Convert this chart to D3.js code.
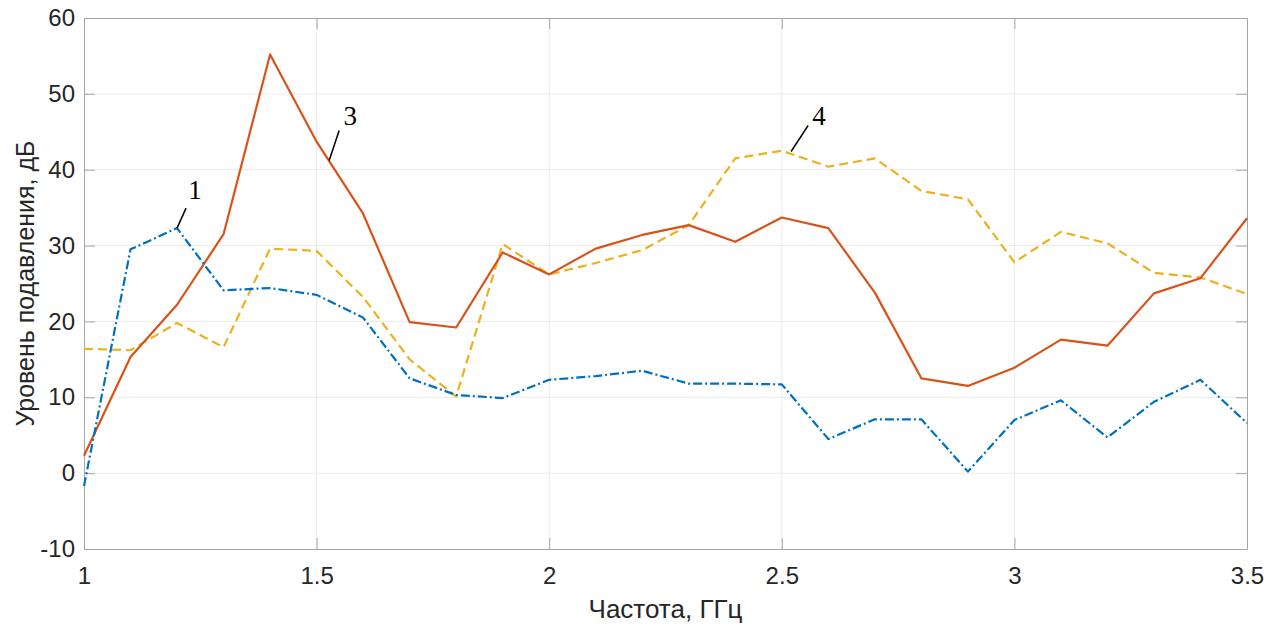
<!DOCTYPE html>
<html>
<head>
<meta charset="utf-8">
<script src="https://cdn.jsdelivr.net/npm/d3@7"></script>
<style>
  body { margin: 0; background: #fff; }
  svg { display: block; }
</style>
</head>
<body>
<div id="container"></div>
<script>
// Frequency points, GHz
const freq = [1.0, 1.1, 1.2, 1.3, 1.4, 1.5, 1.6, 1.7, 1.8, 1.9, 2.0, 2.1, 2.2,
              2.3, 2.4, 2.5, 2.6, 2.7, 2.8, 2.9, 3.0, 3.1, 3.2, 3.3, 3.4, 3.5];

// Suppression level, dB (curves 1, 3, 4)
const curve1 = [-1.7, 29.5, 32.3, 24.1, 24.4, 23.5, 20.5, 12.5, 10.3, 9.9, 12.3, 12.8, 13.5,
                11.8, 11.8, 11.7, 4.5, 7.1, 7.1, 0.2, 7.0, 9.6, 4.7, 9.4, 12.3, 6.6];
const curve3 = [2.3, 15.3, 22.2, 31.5, 55.2, 43.7, 34.2, 19.9, 19.2, 29.1, 26.2, 29.6, 31.4,
                32.7, 30.5, 33.7, 32.3, 23.8, 12.5, 11.5, 13.9, 17.6, 16.8, 23.7, 25.7, 33.6];
const curve4 = [16.4, 16.2, 19.8, 16.6, 29.6, 29.3, 23.2, 15.0, 10.1, 30.2, 26.2, 27.7, 29.4,
                32.7, 41.5, 42.5, 40.4, 41.5, 37.2, 36.1, 27.8, 31.8, 30.3, 26.4, 25.8, 23.6];

const xTicks = [1, 1.5, 2, 2.5, 3, 3.5];
const yTicks = [-10, 0, 10, 20, 30, 40, 50, 60];

// Curve labels: name, anchor frequency, anchor level
const labelNames = ["1", "3", "4"];
const labelFreq = [1.2, 1.527, 2.52];
const labelLevel = [32.3, 41.2, 42.4];

const width = 1278;
const height = 625;
const margin = {top: 18, right: 31, bottom: 76, left: 84};

const svg = d3.select("#container")
    .append("svg")
    .attr("width", width)
    .attr("height", height);

const x = d3.scaleLinear()
    .domain([1, 3.5])
    .range([margin.left, width - margin.right]);

const y = d3.scaleLinear()
    .domain([-10, 60])
    .range([height - margin.bottom, margin.top]);

const axisColor = "#a6a6a6";
const textColor = "#262626";
const fmt = d => String(d);

// Grid lines
svg.append("g")
    .selectAll("line")
    .data(xTicks.slice(1, -1))
    .enter()
    .append("line")
    .attr("x1", d => x(d)).attr("x2", d => x(d))
    .attr("y1", y(-10)).attr("y2", y(60))
    .attr("stroke", "#ebebeb")
    .attr("stroke-width", 1);

svg.append("g")
    .selectAll("line")
    .data(yTicks.slice(1, -1))
    .enter()
    .append("line")
    .attr("x1", x(1)).attr("x2", x(3.5))
    .attr("y1", d => y(d)).attr("y2", d => y(d))
    .attr("stroke", "#ebebeb")
    .attr("stroke-width", 1);

// Axes (ticks pointing inward, on all four sides)
function styleAxis(g) {
    g.selectAll(".domain").attr("stroke", axisColor);
    g.selectAll(".tick line").attr("stroke", axisColor);
    g.selectAll("text")
        .attr("fill", textColor)
        .style("font-family", "Liberation Sans, Arial, sans-serif")
        .style("font-size", "24px");
}

svg.append("g")
    .attr("transform", `translate(0,${y(-10)})`)
    .call(d3.axisBottom(x).tickValues(xTicks).tickFormat(fmt).tickSizeInner(-11).tickSizeOuter(0).tickPadding(18))
    .call(styleAxis);

svg.append("g")
    .attr("transform", `translate(0,${y(60)})`)
    .call(d3.axisTop(x).tickValues(xTicks).tickSizeInner(-11).tickSizeOuter(0).tickFormat(""))
    .call(styleAxis);

svg.append("g")
    .attr("transform", `translate(${x(1)},0)`)
    .call(d3.axisLeft(y).tickValues(yTicks).tickFormat(fmt).tickSizeInner(-11).tickSizeOuter(0).tickPadding(9))
    .call(styleAxis);

svg.append("g")
    .attr("transform", `translate(${x(3.5)},0)`)
    .call(d3.axisRight(y).tickValues(yTicks).tickSizeInner(-11).tickSizeOuter(0).tickFormat(""))
    .call(styleAxis);

// Axis titles
svg.append("text")
    .attr("x", (x(1) + x(3.5)) / 2)
    .attr("y", 618)
    .attr("text-anchor", "middle")
    .attr("fill", textColor)
    .style("font-family", "Liberation Sans, Arial, sans-serif")
    .style("font-size", "26px")
    .text("Частота, ГГц");

svg.append("text")
    .attr("transform", `translate(34,${(y(-10) + y(60)) / 2}) rotate(-90)`)
    .attr("text-anchor", "middle")
    .attr("fill", textColor)
    .style("font-family", "Liberation Sans, Arial, sans-serif")
    .style("font-size", "25px")
    .text("Уровень подавления, дБ");

// Curves
const series = [
    {values: curve4, color: "#EDB120", dash: "9,5"},
    {values: curve3, color: "#D95319", dash: null},
    {values: curve1, color: "#0072BD", dash: "9,3,2,3"}
];

const line = d3.line()
    .x(d => x(d[0]))
    .y(d => y(d[1]));

series.forEach(s => {
    svg.append("path")
        .datum(freq.map((f, i) => [f, s.values[i]]))
        .attr("fill", "none")
        .attr("stroke", s.color)
        .attr("stroke-width", 2.2)
        .attr("stroke-dasharray", s.dash)
        .attr("stroke-linejoin", "round")
        .attr("d", line);
});

// Curve labels with leader lines
const labelOffsets = [[9, -20, 18, -29], [10, -30, 21, -36], [17, -26, 28, -27]];
labelNames.forEach((name, i) => {
    const px = x(labelFreq[i]);
    const py = y(labelLevel[i]);
    const o = labelOffsets[i];
    svg.append("line")
        .attr("x1", px).attr("y1", py)
        .attr("x2", px + o[0]).attr("y2", py + o[1])
        .attr("stroke", "#000")
        .attr("stroke-width", 1.5);
    svg.append("text")
        .attr("x", px + o[2])
        .attr("y", py + o[3])
        .attr("text-anchor", "middle")
        .style("font-family", "Liberation Serif, Times New Roman, serif")
        .style("font-size", "27px")
        .text(name);
});
</script>
</body>
</html>
